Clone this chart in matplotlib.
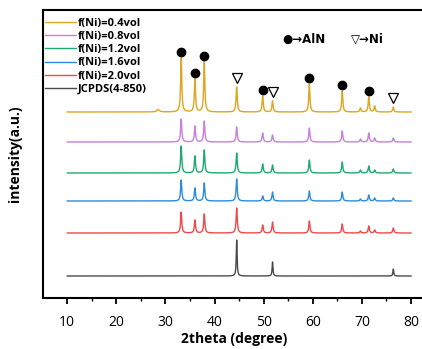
import numpy as np
import matplotlib
matplotlib.use("Agg")
import matplotlib.pyplot as plt

# ---- data ----
peak_pos = [33.2, 36.0, 37.9, 44.5, 49.8, 51.8, 59.3, 66.0, 69.7, 71.4, 72.6, 76.4]
h_04 = [54, 33, 50, 25, 16, 11, 28, 21, 4, 15, 6, 5]
h_08 = [23, 16, 21, 15, 9, 7, 14, 11, 3, 9, 4, 4]
h_12 = [27, 17, 23, 20, 9, 8, 13, 11, 3, 7, 3, 4]
h_16 = [21, 13, 18, 22, 5, 9, 10, 9, 2, 6, 3, 3]
h_20 = [21, 13, 19, 25, 8, 11, 12, 9, 2, 7, 3, 5]
jcpds_pos = [44.5, 51.8, 76.4]
jcpds_h = [36, 14, 7]
extra_04_pos = [28.5]
extra_04_h = [2.5]

labels = ["f(Ni)=0.4vol", "f(Ni)=0.8vol", "f(Ni)=1.2vol",
          "f(Ni)=1.6vol", "f(Ni)=2.0vol", "JCPDS(4-850)"]
offsets = [186, 156, 125, 97, 65, 22]
colors = ["#DDA520", "#C77FE0", "#1DAA6E", "#2A8BE0", "#F04848", "#4A4A4A"]

aln_pos = [33.2, 36.0, 37.9, 49.8, 59.3, 66.0, 71.4]
ni_pos = [44.5, 51.8, 76.4]
xticks = [10, 20, 30, 40, 50, 60, 70, 80]

# ---- figure ----
plt.rcParams['font.family'] = ['Open Sans', 'DejaVu Sans']
fig = plt.figure(figsize=(4.22, 3.49), dpi=100)
ax = fig.add_axes([43/422, 1-298/349, 1-43/422 + 0.01, (298-10)/349])

x = np.arange(10, 80.001, 0.02)

def profile(pos, hts, g):
    y = np.zeros_like(x)
    for p, h in zip(pos, hts):
        y += h / (1 + ((x - p) / g) ** 2)
    return y

series = [h_04, h_08, h_12, h_16, h_20]
for i, hts in enumerate(series):
    y = profile(peak_pos, hts, 0.14)
    if i == 0:
        y += profile(extra_04_pos, extra_04_h, 0.3)
    ax.plot(x, y + offsets[i], color=colors[i], lw=1.0, label=labels[i])
yj = profile(jcpds_pos, jcpds_h, 0.1)
ax.plot(x, yj + offsets[5], color=colors[5], lw=1.0, label=labels[5])

# markers on the top curve
d04 = dict(zip(peak_pos, h_04))
ax.plot(aln_pos, [offsets[0] + d04[p] + 6 for p in aln_pos], 'o',
        color='black', ms=6, ls='none')
ax.plot(ni_pos, [offsets[0] + d04[p] + 9 for p in ni_pos], 'v',
        mfc='white', mec='black', mew=0.9, ms=7, ls='none')

ax.text(53.7, 259, "●→AlN", fontsize=8.5, fontweight='bold', va='center',
        family=['DejaVu Sans'])
ax.text(67.8, 259, "▽→Ni", fontsize=8.5, fontweight='bold', va='center',
        family=['DejaVu Sans'])

ax.set_xlim(5.06, 83.1)
ax.set_ylim(0, 288)
ax.set_xticks(xticks)
ax.set_xticks([15, 25, 35, 45, 55, 65, 75], minor=True)
ax.set_yticks([])
ax.tick_params(axis='x', which='major', direction='out', length=4, width=1.3,
               labelsize=10, pad=8)
ax.tick_params(axis='x', which='minor', direction='out', length=2.5, width=1.0)
ax.spines['right'].set_visible(False)
for s in ['left', 'bottom', 'top']:
    ax.spines[s].set_linewidth(1.5)

ax.set_xlabel("2theta (degree)", fontsize=10, fontweight='bold', labelpad=2)
ax.set_ylabel("intensity(a.u.)", fontsize=10, fontweight='bold', labelpad=15)

leg = ax.legend(loc='upper left', bbox_to_anchor=(-0.016, 1), frameon=False,
                prop={'weight': 'bold', 'size': 8}, handlelength=2.8,
                handletextpad=0.2, borderaxespad=0.6, borderpad=0.1,
                labelspacing=0.2)

fig.savefig("out.png", dpi=100)
